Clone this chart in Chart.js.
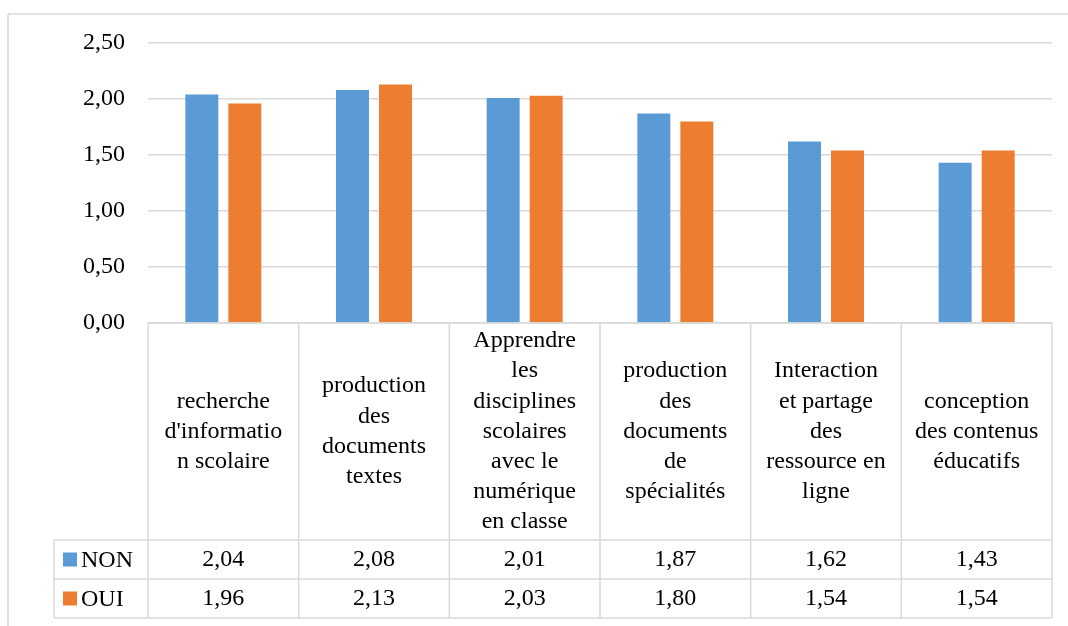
<!DOCTYPE html>
<html>
<head>
<meta charset="utf-8">
<script src="https://cdn.jsdelivr.net/npm/chart.js@4"></script>
<style>
  html, body { margin: 0; padding: 0; background: #fff; }
  #wrap { width: 1068px; height: 626px; }
</style>
</head>
<body>
<div id="wrap"><canvas id="chart" width="1068" height="626"></canvas></div>
<script>
// categories, as wrapped in the table cells
var categoryLines = [
    ["recherche", "d'informatio", "n scolaire"],
    ["production", "des", "documents", "textes"],
    ["Apprendre", "les", "disciplines", "scolaires", "avec le", "numérique", "en classe"],
    ["production", "des", "documents", "de", "spécialités"],
    ["Interaction", "et partage", "des", "ressource en", "ligne"],
    ["conception", "des contenus", "éducatifs"]
];
var seriesNames = ["NON", "OUI"];
var nonValues = [2.04, 2.08, 2.01, 1.87, 1.62, 1.43];
var ouiValues = [1.96, 2.13, 2.03, 1.80, 1.54, 1.54];
var seriesColors = ['#5B9BD5', '#ED7D31'];

var FONT = "'Liberation Serif', serif";
var FSIZE = 24;
var GRID = '#d9d9d9';

function fmt(v) {
    return v.toFixed(2).replace('.', ',');
}

// draws the data table under the plot and the outer frame
var dataTable = {
    id: 'dataTable',
    afterDraw: function (chart) {
        var ctx = chart.ctx;
        var x = chart.scales.x;
        var area = chart.chartArea;
        var n = categoryLines.length;
        var colW = (area.right - area.left) / n;
        var rowH = 39;
        var headBottom = 540;
        var legendLeft = 54;
        var allValues = [nonValues, ouiValues];

        ctx.save();
        ctx.strokeStyle = GRID;
        ctx.lineWidth = 1.5;

        // outer frame (top and left)
        ctx.beginPath();
        ctx.moveTo(8, 14); ctx.lineTo(1068, 14);
        ctx.moveTo(8, 14); ctx.lineTo(8, 626);
        ctx.stroke();

        // column lines
        ctx.beginPath();
        for (var i = 0; i <= n; i++) {
            var cx = area.left + i * colW;
            ctx.moveTo(cx, area.bottom);
            ctx.lineTo(cx, headBottom + rowH * 2);
        }
        ctx.moveTo(area.left, area.bottom); ctx.lineTo(area.right, area.bottom);
        // row lines
        for (var r = 0; r <= 2; r++) {
            ctx.moveTo(legendLeft, headBottom + r * rowH);
            ctx.lineTo(area.right, headBottom + r * rowH);
        }
        ctx.moveTo(legendLeft, headBottom);
        ctx.lineTo(legendLeft, headBottom + rowH * 2);
        ctx.stroke();

        ctx.fillStyle = '#000';
        ctx.font = FSIZE + 'px ' + FONT;
        ctx.textAlign = 'center';
        ctx.textBaseline = 'middle';

        // category headers
        var lineH = 30.2;
        var midHead = (area.bottom + headBottom) / 2;
        categoryLines.forEach(function (lines, i) {
            var px = x.getPixelForValue(i);
            var top = midHead - (lines.length - 1) * lineH / 2;
            lines.forEach(function (t, k) {
                ctx.fillText(t, px, top + k * lineH);
            });
        });

        // values and legend keys
        allValues.forEach(function (vals, r) {
            var cy = headBottom + r * rowH + rowH / 2;
            ctx.textAlign = 'center';
            vals.forEach(function (v, i) {
                ctx.fillText(fmt(v), x.getPixelForValue(i), cy);
            });
            ctx.fillStyle = seriesColors[r];
            ctx.fillRect(63, cy - 7, 14, 14);
            ctx.fillStyle = '#000';
            ctx.textAlign = 'left';
            ctx.fillText(seriesNames[r], 81, cy + 1);
        });
        ctx.restore();
    }
};

var ctx = document.getElementById('chart').getContext('2d');
var myChart = new Chart(ctx, {
    type: 'bar',
    data: {
        labels: categoryLines.map(function (l) { return l.join(' '); }),
        datasets: [{
            label: seriesNames[0],
            data: nonValues,
            backgroundColor: seriesColors[0],
            categoryPercentage: 0.571,
            barPercentage: 0.767
        }, {
            label: seriesNames[1],
            data: ouiValues,
            backgroundColor: seriesColors[1],
            categoryPercentage: 0.571,
            barPercentage: 0.767
        }]
    },
    options: {
        responsive: false,
        animation: false,
        layout: {
            padding: { top: 43, right: 16, bottom: 303, left: 0 }
        },
        plugins: {
            legend: { display: false },
            tooltip: { enabled: false }
        },
        scales: {
            x: {
                ticks: { display: false },
                grid: { display: false },
                border: { display: false },
                afterFit: function (s) { s.height = 0; }
            },
            y: {
                min: 0,
                max: 2.5,
                ticks: {
                    stepSize: 0.5,
                    padding: 23,
                    color: '#000',
                    font: { family: FONT, size: FSIZE },
                    callback: function (v) { return fmt(v); }
                },
                grid: { color: GRID, lineWidth: 1.5, drawTicks: false },
                border: { display: false },
                afterFit: function (s) { s.width = 148; }
            }
        }
    },
    plugins: [dataTable]
});
</script>
</body>
</html>
